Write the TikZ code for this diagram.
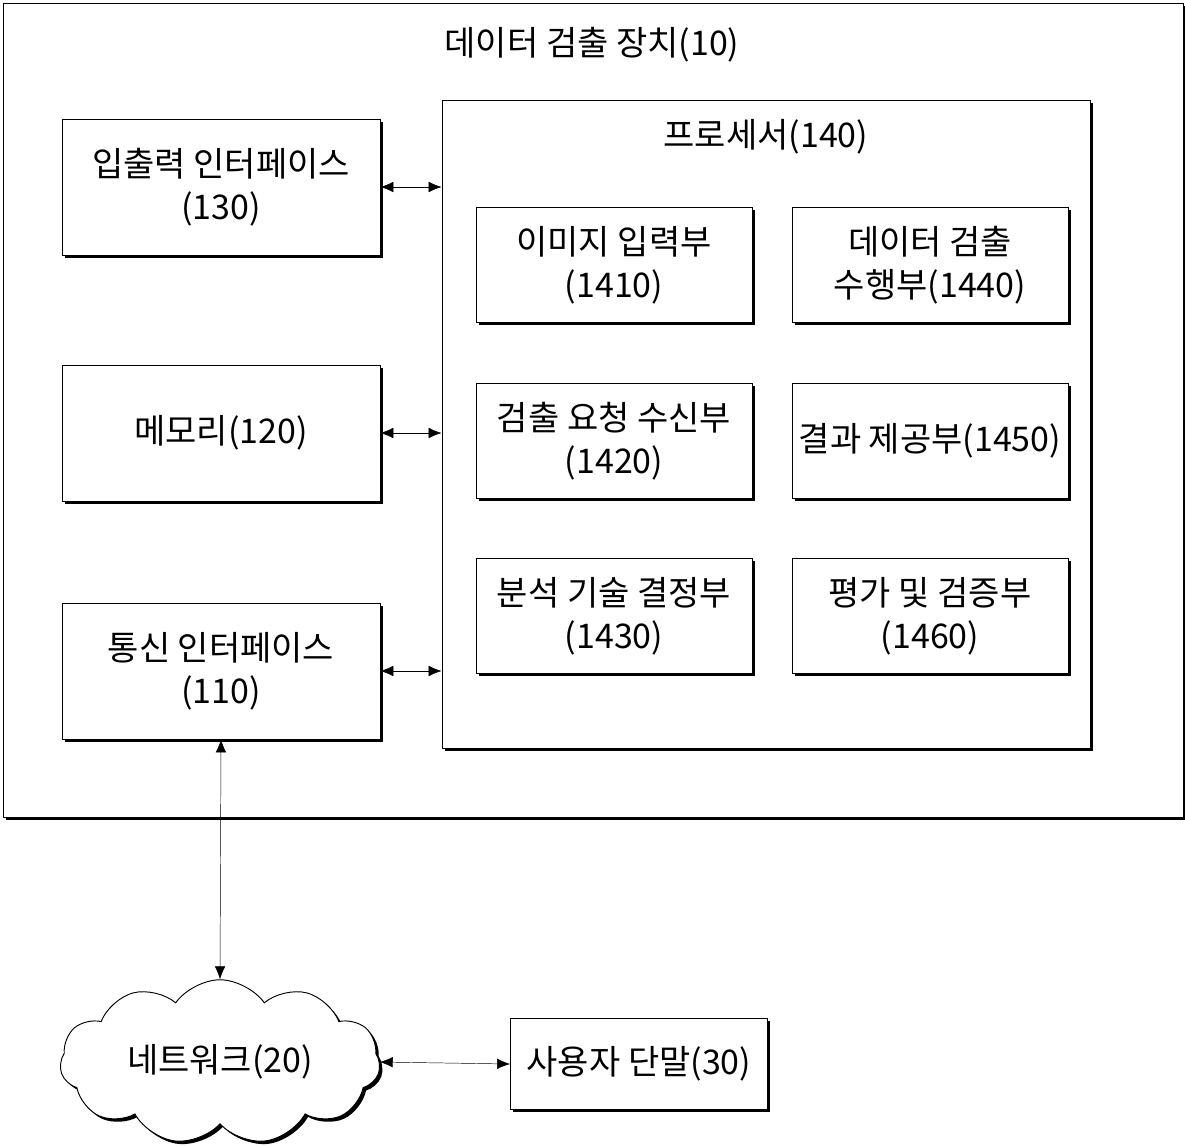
\documentclass[tikz,border=0pt]{standalone}
\usepackage{fontspec}
\setmainfont{Noto Sans CJK KR}
\usetikzlibrary{arrows.meta,positioning,shadows,shapes.symbols}

\begin{document}
\begin{tikzpicture}[x=0.03cm,y=-0.03cm,
  box/.style={rectangle,draw,thick,fill=white,align=center,font=\fontsize{29}{37}\selectfont,
    drop shadow={shadow xshift=2.5pt,shadow yshift=-2.5pt,opacity=1,fill=black}},
  side/.style={box,minimum width=9.54cm,minimum height=4.08cm},
  unit/.style={box,minimum width=8.28cm,minimum height=3.45cm},
  link/.style={{Latex[length=11pt,width=9pt]}-{Latex[length=11pt,width=9pt]},thin}]
\useasboundingbox (0,0) rectangle (1185,1145);
\node(dev)[box,minimum width=35.4cm,minimum height=24.42cm] at (593,410) {};
\node(devlabel)[font=\fontsize{29}{37}\selectfont] at (592,45) {데이터 검출 장치(10)};
\node(proc)[box,minimum width=19.44cm,minimum height=19.44cm] at (766,424) {};
\node(proclabel)[font=\fontsize{29}{37}\selectfont] at (766,137) {프로세서(140)};
% left column
\node(io)[side] at (221,187) {입출력 인터페이스\\(130)};
\node(mem)[side] at (221,433) {메모리(120)};
\node(com)[side] at (221,671) {통신 인터페이스\\(110)};
% processor units
\node(u1410)[unit] at (614,265) {이미지 입력부\\(1410)};
\node(u1420)[unit] at (614,441) {검출 요청 수신부\\(1420)};
\node(u1430)[unit] at (614,616) {분석 기술 결정부\\(1430)};
\node(u1440)[unit] at (930,265) {데이터 검출\\수행부(1440)};
\node(u1450)[unit] at (930,441) {결과 제공부(1450)};
\node(u1460)[unit] at (930,616) {평가 및 검증부\\(1460)};
% outside
\node(net)[cloud,cloud puffs=11,cloud puff arc=110,aspect=2,draw,thick,fill=white,
  minimum width=9.6cm,minimum height=4.6cm,inner sep=0pt,font=\fontsize{29}{37}\selectfont,
  drop shadow={shadow xshift=2.5pt,shadow yshift=-2.5pt,opacity=1,fill=black}] at (220,1062) {네트워크(20)};
\node(user)[box,minimum width=7.71cm,minimum height=2.73cm] at (639,1064) {사용자 단말(30)};
\draw[link] (io.east) -- (io.east -| proc.west);
\draw[link] (mem.east) -- (mem.east -| proc.west);
\draw[link] (com.east) -- (com.east -| proc.west);
\draw[link] (com.south) -- (net.north);
\draw[link] (net.east) -- (user.west);
\end{tikzpicture}
\end{document}
